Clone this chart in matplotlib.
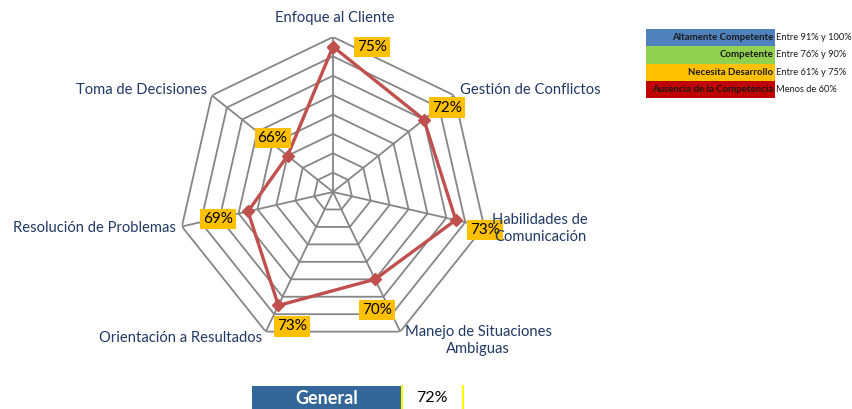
import numpy as np
import matplotlib
matplotlib.use("Agg")
import matplotlib.pyplot as plt
from matplotlib.patches import Rectangle

# datos
categorias = ["Enfoque al Cliente", "Gestión de Conflictos", "Habilidades de\nComunicación",
              "Manejo de Situaciones\nAmbiguas", "Orientación a Resultados",
              "Resolución de Problemas", "Toma de Decisiones"]
valores = [0.75, 0.72, 0.73, 0.70, 0.73, 0.69, 0.66]
niveles = [0.62, 0.64, 0.66, 0.68, 0.70, 0.72, 0.74, 0.76]

leyenda_nombres = ["Altamente Competente", "Competente", "Necesita Desarrollo", "Ausencia de la Competencia"]
leyenda_rangos = ["Entre 91% y 100%", "Entre 76% y 90%", "Entre 61% y 75%", "Menos de 60%"]
leyenda_colores = ["#4F81BD", "#92D050", "#FFC000", "#C00000"]

general_valor = 0.72

plt.rcParams['font.family'] = ['Lato', 'DejaVu Sans']

W, H = 853, 409
fig = plt.figure(figsize=(W / 100, H / 100), dpi=100)

# radar
cx, cy, R = 333, 192, 155
ax = fig.add_axes([(cx - R) / W, (H - cy - R) / H, 2 * R / W, 2 * R / H], projection="polar")
ax.set_theta_zero_location("N")
ax.set_theta_direction(-1)
ax.set_ylim(0.60, 0.76)
ax.grid(False)
ax.spines["polar"].set_visible(False)
ax.set_xticks([])
ax.set_yticks([])
ax.patch.set_alpha(0)

n = len(categorias)
ang = np.linspace(0, 2 * np.pi, n, endpoint=False)
ang_c = np.append(ang, ang[0])

grid_col = "#868686"
for lv in niveles:
    ax.plot(ang_c, [lv] * (n + 1), color=grid_col, lw=1.3, zorder=1)
for a in ang:
    ax.plot([a, a], [0.60, 0.76], color=grid_col, lw=1.3, zorder=1)

vals_c = valores + valores[:1]
ax.plot(ang_c, vals_c, color="#C0504D", lw=2.4, marker="D", ms=6,
        markeredgecolor="#C0504D", zorder=3)

# etiquetas de datos
lab_off = [(39, 0), (23, 12), (29, -10), (2, -31), (14, -21), (-30, -8), (-15, 18)]
for a, v, (dx, dy) in zip(ang, valores, lab_off):
    ax.annotate(f"{v:.0%}", (a, v), xytext=(dx, dy), textcoords="offset pixels",
                ha="center", va="center", fontsize=11, color="black",
                bbox=dict(boxstyle="square,pad=0.2", fc="#FFC000", ec="none"),
                annotation_clip=False, zorder=5)

# etiquetas de categorias
cat_off = [(2, 19, "center"), (6, 5, "left"), (56, -2, "center"), (78, -9, "center"),
           (-4, -6, "right"), (-6, -2, "right"), (-5, 5, "right")]
for a, txt, (dx, dy, ha) in zip(ang, categorias, cat_off):
    ax.annotate(txt, (a, 0.76), xytext=(dx, dy), textcoords="offset pixels",
                ha=ha, va="center", fontsize=10.6, color="#1F3864",
                annotation_clip=False, linespacing=1.3, zorder=6)

# capa para leyenda y barra general (coordenadas en pixeles)
ov = fig.add_axes([0, 0, 1, 1])
ov.set_xlim(0, W)
ov.set_ylim(H, 0)
ov.axis("off")
ov.patch.set_alpha(0)

y0, rh = 29, 17.3
for i, (nom, rng, col) in enumerate(zip(leyenda_nombres, leyenda_rangos, leyenda_colores)):
    y = y0 + i * rh
    ov.add_patch(Rectangle((646, y), 129, rh, fc=col, ec="none"))
    ov.text(773, y + rh / 2, nom, ha="right", va="center", fontsize=6.9,
            fontweight="bold", color="#1a1a1a")
    ov.text(776, y + rh / 2, rng, ha="left", va="center", fontsize=6.7, color="#1a1a1a")

ov.add_patch(Rectangle((252, 386), 150, 25, fc="#336699", ec="none"))
ov.text(327, 399, "General", ha="center", va="center", fontsize=13,
        fontweight="bold", color="white")
ov.plot([402.5, 402.5], [386, 409], color="#FFFF00", lw=1.5)
ov.plot([463, 463], [386, 409], color="#FFFF00", lw=1.5)
ov.text(432, 398, f"{general_valor:.0%}", ha="center", va="center", fontsize=11.5, color="black")

fig.savefig("out.png", dpi=100)
